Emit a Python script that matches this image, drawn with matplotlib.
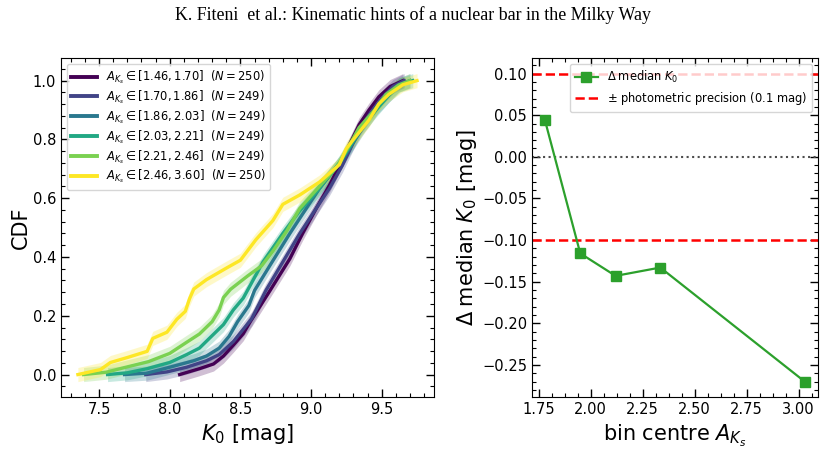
import matplotlib
matplotlib.use("Agg")
import matplotlib.pyplot as plt
from matplotlib.ticker import AutoMinorLocator
import numpy as np

# CDF curves: K0 [mag] and cumulative fraction
k_p = [8.07, 8.21, 8.31, 8.38, 8.45, 8.52, 8.57, 8.71, 8.85, 8.94, 9.04, 9.13, 9.20, 9.27, 9.34, 9.41, 9.48, 9.56, 9.65]
c_p = [0.0, 0.02, 0.036, 0.063, 0.10, 0.139, 0.18, 0.286, 0.394, 0.48, 0.568, 0.644, 0.71, 0.78, 0.85, 0.90, 0.945, 0.98, 1.0]

k_b = [7.83, 7.98, 8.12, 8.26, 8.35, 8.45, 8.53, 8.58, 8.68, 8.80, 8.92, 9.04, 9.13, 9.22, 9.28, 9.35, 9.42, 9.50, 9.58, 9.66]
c_b = [0.0, 0.009, 0.025, 0.047, 0.068, 0.112, 0.16, 0.19, 0.286, 0.383, 0.48, 0.568, 0.633, 0.71, 0.77, 0.84, 0.89, 0.94, 0.98, 1.0]

k_dt = [7.68, 7.84, 8.00, 8.17, 8.26, 8.35, 8.42, 8.48, 8.56, 8.60, 8.71, 8.85, 8.97, 9.06, 9.22, 9.30, 9.38, 9.47, 9.55, 9.62, 9.70]
c_dt = [0.0, 0.005, 0.025, 0.047, 0.063, 0.09, 0.13, 0.18, 0.235, 0.286, 0.372, 0.48, 0.568, 0.633, 0.73, 0.79, 0.85, 0.91, 0.95, 0.985, 1.0]

k_tg = [7.56, 7.70, 7.84, 8.00, 8.12, 8.21, 8.28, 8.38, 8.45, 8.52, 8.66, 8.80, 8.92, 9.04, 9.20, 9.28, 9.36, 9.46, 9.55, 9.63, 9.72]
c_tg = [0.0, 0.006, 0.02, 0.041, 0.068, 0.09, 0.123, 0.17, 0.22, 0.26, 0.383, 0.48, 0.557, 0.622, 0.72, 0.78, 0.84, 0.9, 0.95, 0.985, 1.0]

k_g = [7.39, 7.55, 7.69, 7.85, 8.00, 8.12, 8.21, 8.30, 8.35, 8.38, 8.43, 8.55, 8.65, 8.73, 8.83, 8.92, 9.04, 9.18, 9.26, 9.34, 9.45, 9.53, 9.62, 9.70]
c_g = [0.0, 0.008, 0.025, 0.044, 0.072, 0.11, 0.138, 0.18, 0.22, 0.262, 0.29, 0.335, 0.37, 0.42, 0.49, 0.565, 0.63, 0.705, 0.77, 0.84, 0.9, 0.953, 0.985, 1.0]

k_y = [7.35, 7.51, 7.58, 7.70, 7.84, 7.88, 7.98, 8.05, 8.11, 8.14, 8.17, 8.26, 8.40, 8.50, 8.61, 8.73, 8.80, 8.92, 9.06, 9.20, 9.25, 9.32, 9.41, 9.48, 9.55, 9.65, 9.75]
c_y = [0.0, 0.017, 0.041, 0.058, 0.079, 0.123, 0.144, 0.188, 0.215, 0.258, 0.291, 0.323, 0.362, 0.389, 0.459, 0.524, 0.579, 0.611, 0.655, 0.714, 0.769, 0.812, 0.866, 0.921, 0.953, 0.986, 1.0]

bin_edges = [(1.46, 1.70), (1.70, 1.86), (1.86, 2.03), (2.03, 2.21), (2.21, 2.46), (2.46, 3.60)]
bin_n = [250, 249, 249, 249, 249, 250]

# right panel
bin_centre = [1.78, 1.95, 2.12, 2.335, 3.03]
delta_median = [0.044, -0.116, -0.143, -0.133, -0.270]
precision = 0.1

curves = [(k_p, c_p), (k_b, c_b), (k_dt, c_dt), (k_tg, c_tg), (k_g, c_g), (k_y, c_y)]
colors = plt.cm.viridis(np.linspace(0, 1, len(curves)))

fig = plt.figure(figsize=(8.26, 4.53), dpi=100)
ax1 = fig.add_axes([0.0738, 0.1236, 0.4516, 0.748])
ax2 = fig.add_axes([0.644, 0.1236, 0.346, 0.748])

fig.text(0.5, 1 - 15 / 453, "K. Fiteni  et al.: Kinematic hints of a nuclear bar in the Milky Way",
         ha="center", va="center", family="Liberation Serif", fontsize=12.9)

for (k, c), col, (lo, hi), n in zip(curves, colors, bin_edges, bin_n):
    k = np.array(k)
    c = np.array(c)
    ax1.fill_between(k, c - 0.024, c + 0.024, color=col, alpha=0.25, lw=0)
    ax1.plot(k, c, color=col, lw=2.4,
             label=r"$A_{K_s} \in [%.2f, %.2f]$  $(N = %d)$" % (lo, hi, n))

ax1.set_xlabel(r"$K_0$ [mag]", fontsize=15)
ax1.set_ylabel("CDF", fontsize=15, labelpad=1)
leg1 = ax1.legend(loc="upper left", fontsize=8.3, handlelength=2.2, labelspacing=0.2)
for h in leg1.get_lines():
    h.set_linewidth(2.8)

ax2.axhline(precision, color="red", ls="--", lw=1.8, label=r"$\pm$ photometric precision (0.1 mag)")
ax2.axhline(-precision, color="red", ls="--", lw=1.8)
ax2.axhline(0, color="0.3", ls=":", lw=1.5)
ln, = ax2.plot(bin_centre, delta_median, "s-", color="#2ca02c", ms=7, lw=1.6,
               label=r"$\Delta\;\mathrm{median}\;K_0$")
ax2.set_xlabel(r"bin centre $A_{K_s}$", fontsize=15)
ax2.set_ylabel(r"$\Delta\;\mathrm{median}\;K_0$ [mag]", fontsize=15, labelpad=2)
h, l = ax2.get_legend_handles_labels()
ax2.legend([h[1], h[0]], [l[1], l[0]], loc="upper right", fontsize=8.3)

ax1.xaxis.set_minor_locator(AutoMinorLocator(5))
ax1.yaxis.set_minor_locator(AutoMinorLocator(5))
ax2.xaxis.set_minor_locator(AutoMinorLocator(4))
ax2.yaxis.set_minor_locator(AutoMinorLocator(5))
for ax in (ax1, ax2):
    ax.tick_params(which="both", direction="in", top=True, right=True, labelsize=10.5)
    ax.tick_params(which="major", length=6, width=1)
    ax.tick_params(which="minor", length=3, width=0.8)

fig.savefig("out.png", dpi=100)
